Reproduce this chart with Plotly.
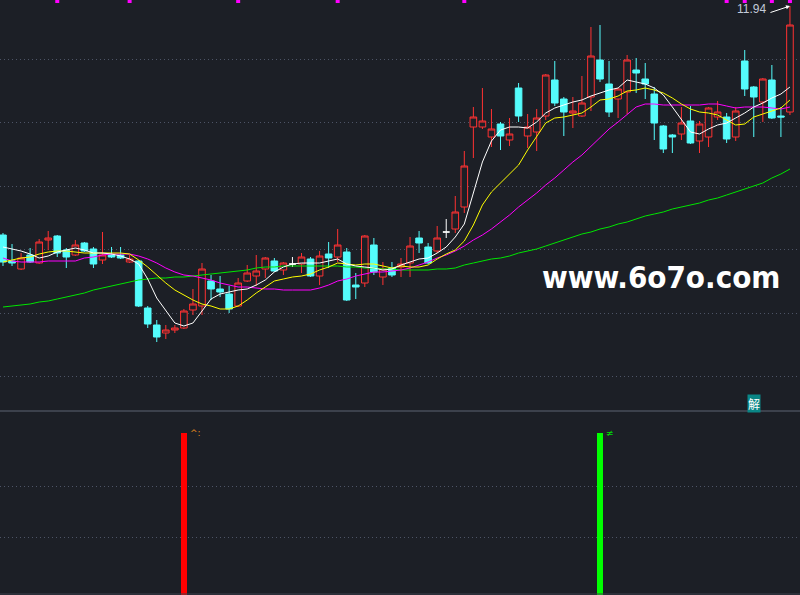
import plotly.graph_objects as go

# ---------------- data ----------------
idx = list(range(88))

open_ = [9.65, 9.39, 9.31, 9.45, 9.37, 9.60, 9.64, 9.50, 9.45, 9.57,
         9.51, 9.40, 9.45, 9.45, 9.38, 9.39, 8.92, 8.75, 8.67, 8.70,
         8.72, 8.90, 8.94, 9.19, 9.11, 9.06, 8.94, 9.19, 9.24, 9.31,
         9.39, 9.30, 9.36, 9.36, 9.41, 9.24, 9.46, 9.43, 9.48, 9.15,
         9.17, 9.55, 9.23, 9.32, 9.33, 9.37, 9.62, 9.53, 9.49, 9.68,
         9.71, 9.93, 10.73, 10.73, 10.63, 10.76, 10.60, 11.12, 10.64, 10.68,
         10.84, 11.20, 11.01, 10.87, 10.84, 11.03, 11.40, 11.16, 11.01, 11.08,
         11.30, 11.21, 11.06, 10.74, 10.65, 10.66, 10.79, 10.59, 10.63, 10.83,
         10.83, 10.63, 11.39, 11.13, 10.98, 11.20, 10.84, 10.88]
high = [9.67, 9.56, 9.47, 9.52, 9.61, 9.69, 9.65, 9.52, 9.60, 9.58,
        9.53, 9.68, 9.53, 9.53, 9.45, 9.40, 8.94, 8.80, 8.75, 8.75,
        8.91, 9.11, 9.37, 9.25, 9.24, 9.14, 9.22, 9.35, 9.45, 9.43,
        9.42, 9.38, 9.43, 9.47, 9.43, 9.49, 9.58, 9.71, 9.52, 9.27,
        9.65, 9.62, 9.38, 9.38, 9.42, 9.63, 9.69, 9.57, 9.74, 9.81,
        10.04, 10.49, 10.93, 11.12, 10.91, 10.78, 10.82, 11.17, 10.86, 10.91,
        11.26, 11.39, 11.03, 11.03, 11.24, 11.73, 11.75, 11.39, 11.12, 11.45,
        11.42, 11.37, 11.13, 10.75, 10.66, 10.93, 10.94, 10.79, 10.93, 10.99,
        10.87, 10.93, 11.50, 11.14, 11.22, 11.35, 10.93, 11.94]
low = [9.34, 9.34, 9.30, 9.37, 9.36, 9.50, 9.43, 9.32, 9.44, 9.48,
       9.32, 9.36, 9.42, 9.41, 9.37, 8.93, 8.72, 8.58, 8.61, 8.67,
       8.71, 8.85, 8.85, 9.00, 9.03, 8.87, 8.93, 9.18, 9.14, 9.22,
       9.28, 9.25, 9.33, 9.27, 9.23, 9.15, 9.32, 9.38, 8.99, 9.01,
       9.13, 9.25, 9.15, 9.23, 9.23, 9.23, 9.47, 9.36, 9.47, 9.62,
       9.67, 9.87, 10.42, 10.71, 10.53, 10.50, 10.54, 10.78, 10.52, 10.49,
       10.80, 10.94, 10.64, 10.72, 10.83, 10.89, 11.18, 10.83, 10.82, 10.86,
       11.07, 11.01, 10.60, 10.47, 10.47, 10.60, 10.56, 10.47, 10.53, 10.80,
       10.57, 10.59, 11.04, 10.63, 10.78, 10.81, 10.63, 10.85]
close = [9.38, 9.37, 9.42, 9.38, 9.58, 9.62, 9.47, 9.43, 9.55, 9.49,
         9.36, 9.45, 9.43, 9.42, 9.41, 8.94, 8.76, 8.63, 8.70, 8.72,
         8.89, 8.96, 9.31, 9.11, 9.08, 8.91, 9.17, 9.27, 9.29, 9.42,
         9.29, 9.37, 9.36, 9.43, 9.24, 9.44, 9.42, 9.55, 9.00, 9.13,
         9.64, 9.28, 9.31, 9.25, 9.36, 9.54, 9.57, 9.37, 9.62, 9.68,
         9.88, 10.34, 10.83, 10.79, 10.71, 10.64, 10.66, 10.84, 10.73, 10.82,
         11.25, 10.97, 10.88, 10.89, 10.97, 11.44, 11.21, 10.88, 11.11, 11.40,
         11.27, 11.16, 10.77, 10.51, 10.63, 10.77, 10.57, 10.76, 10.92, 10.88,
         10.61, 10.89, 11.11, 11.03, 11.21, 10.82, 10.83, 11.75]

ma5 = [9.53, 9.51, 9.49, 9.46, 9.42, 9.44, 9.48, 9.50, 9.52, 9.50,
       9.47, 9.47, 9.46, 9.44, 9.41, 9.36, 9.21, 9.02, 8.90, 8.77,
       8.74, 8.77, 8.89, 9.01, 9.06, 9.08, 9.10, 9.11, 9.15, 9.20,
       9.28, 9.33, 9.36, 9.37, 9.37, 9.37, 9.39, 9.41, 9.36, 9.34,
       9.33, 9.32, 9.30, 9.31, 9.35, 9.38, 9.41, 9.42, 9.47, 9.53,
       9.63, 9.76, 10.08, 10.38, 10.59, 10.70, 10.73, 10.73, 10.72, 10.78,
       10.87, 10.92, 10.95, 10.98, 11.00, 11.04, 11.07, 11.10, 11.12, 11.20,
       11.18, 11.16, 11.12, 11.05, 10.93, 10.80, 10.68, 10.66, 10.71, 10.75,
       10.77, 10.82, 10.87, 10.93, 10.97, 11.02, 11.06, 11.13]
ma10 = [9.38, 9.40, 9.42, 9.43, 9.46, 9.48, 9.49, 9.49, 9.48, 9.47,
        9.47, 9.47, 9.47, 9.47, 9.46, 9.40, 9.33, 9.25, 9.17, 9.10,
        9.05, 9.00, 8.96, 8.94, 8.91, 8.91, 8.94, 9.00, 9.07, 9.13,
        9.19, 9.21, 9.23, 9.24, 9.26, 9.30, 9.33, 9.37, 9.36, 9.35,
        9.36, 9.36, 9.34, 9.32, 9.34, 9.33, 9.33, 9.35, 9.41, 9.46,
        9.50, 9.59, 9.75, 9.95, 10.08, 10.17, 10.25, 10.35, 10.50, 10.63,
        10.77, 10.82, 10.83, 10.85, 10.87, 10.93, 11.00, 11.01, 11.04, 11.09,
        11.10, 11.12, 11.10, 11.07, 11.02, 10.96, 10.91, 10.88, 10.87, 10.85,
        10.80, 10.75, 10.76, 10.83, 10.86, 10.89, 10.92, 11.00]
ma20 = [9.42, 9.39, 9.38, 9.38, 9.38, 9.39, 9.39, 9.39, 9.39, 9.42,
        9.43, 9.45, 9.46, 9.46, 9.46, 9.44, 9.41, 9.37, 9.32, 9.28,
        9.25, 9.24, 9.22, 9.20, 9.17, 9.15, 9.13, 9.13, 9.12, 9.11,
        9.11, 9.10, 9.10, 9.10, 9.10, 9.12, 9.15, 9.19, 9.21, 9.24,
        9.26, 9.28, 9.28, 9.29, 9.30, 9.32, 9.35, 9.38, 9.42, 9.45,
        9.49, 9.54, 9.60, 9.65, 9.71, 9.78, 9.85, 9.93, 10.00, 10.07,
        10.15, 10.22, 10.30, 10.38, 10.45, 10.54, 10.62, 10.71, 10.78, 10.86,
        10.93, 10.96, 10.96, 10.95, 10.95, 10.95, 10.95, 10.95, 10.96, 10.96,
        10.94, 10.92, 10.93, 10.93, 10.93, 10.92, 10.91, 10.93]
ma60 = [8.93, 8.94, 8.95, 8.96, 8.98, 8.99, 9.01, 9.03, 9.05, 9.07,
        9.10, 9.12, 9.14, 9.16, 9.18, 9.20, 9.21, 9.22, 9.22, 9.23,
        9.23, 9.24, 9.25, 9.26, 9.27, 9.28, 9.29, 9.30, 9.32, 9.33,
        9.33, 9.34, 9.34, 9.34, 9.34, 9.34, 9.34, 9.34, 9.33, 9.33,
        9.32, 9.32, 9.31, 9.31, 9.30, 9.30, 9.30, 9.30, 9.31, 9.31,
        9.32, 9.35, 9.37, 9.39, 9.41, 9.42, 9.44, 9.47, 9.49, 9.51,
        9.54, 9.57, 9.60, 9.63, 9.66, 9.68, 9.71, 9.73, 9.76, 9.78,
        9.81, 9.84, 9.86, 9.88, 9.91, 9.93, 9.95, 9.97, 10.00, 10.02,
        10.05, 10.08, 10.11, 10.14, 10.17, 10.22, 10.26, 10.31]

doji_idx = [32, 49]                 # white cross candles
signal_idx = [20, 66]               # lower-panel signal bars
signal_val = [1.0, 1.0]
signal_colors = ["#ff0000", "#00ff00"]
signal_text = ["^:", "≠"]
signal_text_colors = ["#e08a1e", "#00e000"]
mark_idx = [6, 14, 26, 37, 51, 80, 82, 85, 87]   # magenta markers on top edge
high_label = "11.94"
watermark = "www.6o7o.com"
tag_text = "解"

# ---------------- styling ----------------
BG = "#1c1f26"
RED = "#ff3232"
CYAN = "#54fcfc"
GRID = "#4d5466"

main_idx = [i for i in idx if i not in doji_idx]

fig = go.Figure()

fig.add_trace(go.Candlestick(
    x=main_idx,
    open=[open_[i] for i in main_idx], high=[high[i] for i in main_idx],
    low=[low[i] for i in main_idx], close=[close[i] for i in main_idx],
    increasing=dict(line=dict(color=RED, width=1), fillcolor=BG),
    decreasing=dict(line=dict(color=CYAN, width=1), fillcolor=CYAN),
    whiskerwidth=0, xaxis="x", yaxis="y", showlegend=False, hoverinfo="skip"))

fig.add_trace(go.Candlestick(
    x=doji_idx,
    open=[open_[i] for i in doji_idx], high=[high[i] for i in doji_idx],
    low=[low[i] for i in doji_idx], close=[close[i] for i in doji_idx],
    increasing=dict(line=dict(color="#ffffff", width=1), fillcolor="#ffffff"),
    decreasing=dict(line=dict(color="#ffffff", width=1), fillcolor="#ffffff"),
    whiskerwidth=0, xaxis="x", yaxis="y", showlegend=False, hoverinfo="skip"))

for series, color in [(ma60, "#00e600"), (ma20, "#ff00ff"), (ma10, "#ffff00"), (ma5, "#ffffff")]:
    fig.add_trace(go.Scatter(x=idx, y=series, mode="lines",
                             line=dict(color=color, width=1),
                             xaxis="x", yaxis="y", showlegend=False, hoverinfo="skip"))

fig.add_trace(go.Scatter(x=mark_idx, y=[11.99] * len(mark_idx), mode="markers",
                         marker=dict(symbol="square", size=4, color="#ff00ff", line=dict(width=0)),
                         xaxis="x", yaxis="y", showlegend=False, hoverinfo="skip"))

fig.add_trace(go.Bar(x=signal_idx, y=signal_val, width=0.7,
                     marker=dict(color=signal_colors, line=dict(width=0)),
                     xaxis="x", yaxis="y2", showlegend=False, hoverinfo="skip"))

main_bottom = 184 / 595
fig.update_layout(
    width=800, height=595,
    margin=dict(l=0, r=0, t=0, b=0),
    paper_bgcolor=BG, plot_bgcolor=BG,
    boxmode="overlay", boxgap=0.27, boxgroupgap=0,
    xaxis=dict(range=[-0.33, 88.11], visible=False, rangeslider=dict(visible=False),
               anchor="y2", fixedrange=True),
    yaxis=dict(domain=[main_bottom, 1], range=[7.89, 12.0],
               tickmode="array", tickvals=[11.41, 10.78, 10.14, 9.51, 8.87, 8.24],
               showticklabels=False, showgrid=True, gridcolor=GRID, griddash="1px,3px",
               gridwidth=1, zeroline=False, showline=False, ticks=""),
    yaxis2=dict(domain=[0, 183 / 595], range=[0, 1.13],
                tickmode="array", tickvals=[0.352, 0.673],
                showticklabels=False, showgrid=True, gridcolor=GRID, griddash="1px,3px",
                gridwidth=1, zeroline=False, showline=False, ticks=""),
    bargap=0,
)

# panel separator and bottom edge
fig.add_shape(type="line", xref="paper", yref="paper", x0=0, x1=1,
              y0=1 - 411 / 595, y1=1 - 411 / 595, line=dict(color="#3c414c", width=2))
fig.add_shape(type="line", xref="paper", yref="paper", x0=0, x1=1,
              y0=1 / 595, y1=1 / 595, line=dict(color="#3c414c", width=1))

# high label and arrow
fig.add_annotation(xref="paper", yref="paper", x=751 / 800, y=1 - 9 / 595,
                   text=high_label, showarrow=False, xanchor="center", yanchor="middle",
                   font=dict(family="Liberation Sans", size=12, color="#c2cad8"))
fig.add_annotation(x=idx[-1], y=high[-1], xref="x", yref="y", text="",
                   showarrow=True, ax=-21, ay=7, arrowhead=2, arrowsize=0.8,
                   arrowwidth=1, arrowcolor="#ffffff")

# watermark
fig.add_annotation(xref="paper", yref="paper", x=661 / 800, y=1 - 277 / 595,
                   text="<b>" + watermark + "</b>", showarrow=False,
                   xanchor="center", yanchor="middle",
                   font=dict(family="DejaVu Sans Condensed, DejaVu Sans", size=31, color="#ffffff"))

# tag
fig.add_annotation(xref="paper", yref="paper", x=753.5 / 800, y=1 - 403 / 595,
                   text=tag_text, showarrow=False, xanchor="center", yanchor="middle",
                   bgcolor="#0a8686", borderpad=0,
                   font=dict(family="Noto Sans CJK SC", size=12, color="#ffffff"))

# signal glyphs next to the bars
for si, st, sc in zip(signal_idx, signal_text, signal_text_colors):
    fig.add_annotation(x=si + 0.45, y=1.0, xref="x", yref="y2", text=st,
                       showarrow=False, xanchor="left", yanchor="middle",
                       font=dict(family="DejaVu Sans", size=9, color=sc))

fig.write_html("out.html",
               config={"displayModeBar": False, "staticPlot": True},
               post_script="document.body.style.margin='0';document.body.style.background='#1c1f26';")
